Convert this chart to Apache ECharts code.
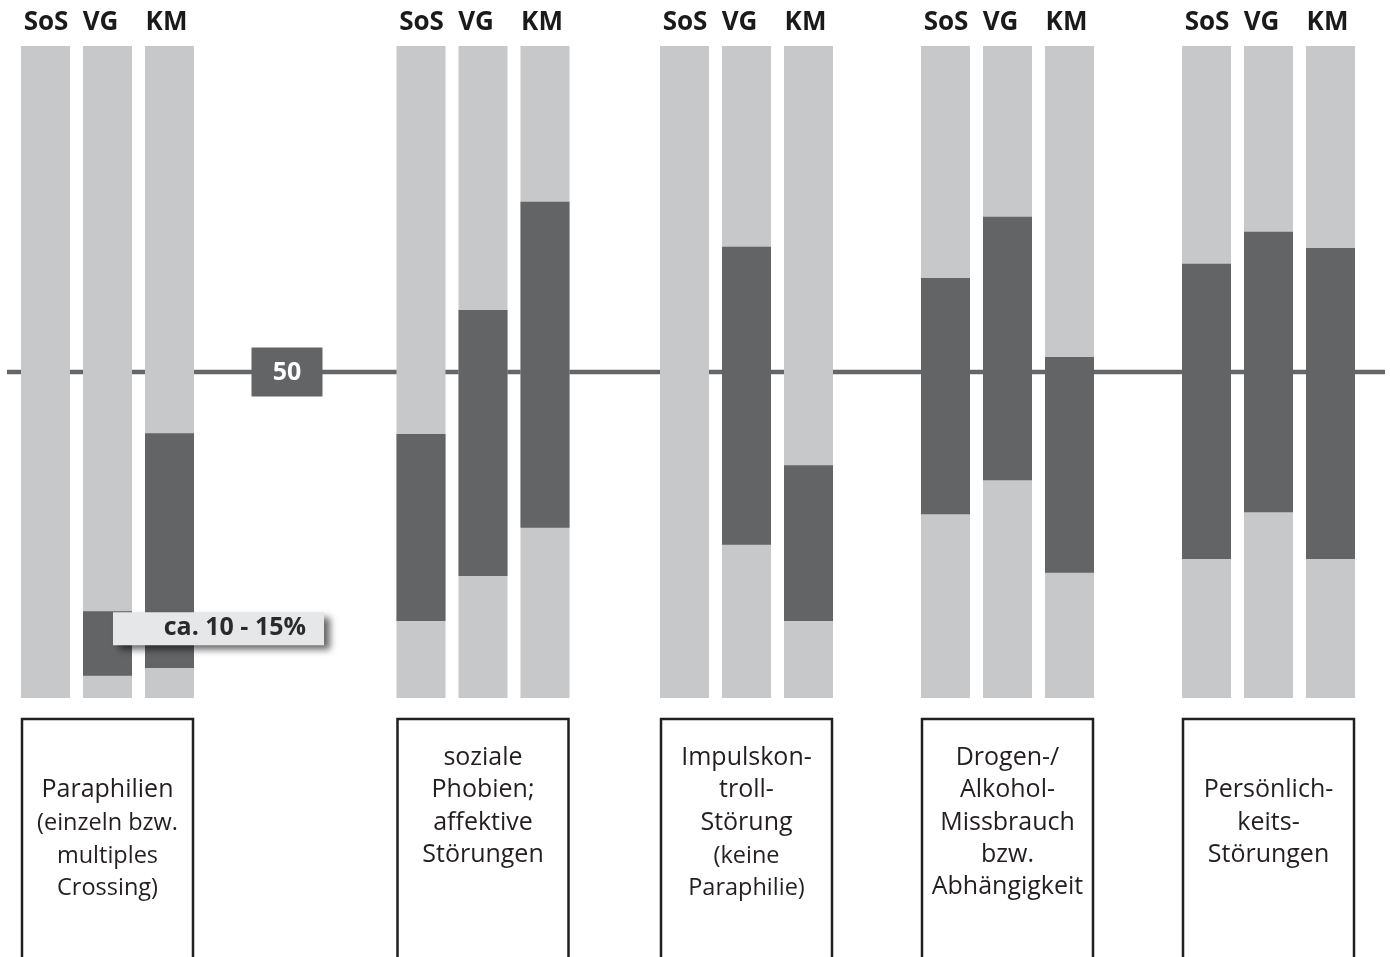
<!DOCTYPE html>
<html><head><meta charset="utf-8">
<script src="https://cdn.jsdelivr.net/npm/echarts@6/dist/echarts.min.js"></script>
<style>html,body{margin:0;padding:0;background:#fff}#main{width:1390px;height:957px}</style>
</head><body><div id="main"></div>
<script>
// ---- data ----
const categories = ['Paraphilien', 'soziale Phobien; affektive Störungen', 'Impulskontroll-Störung', 'Drogen-/Alkohol-Missbrauch bzw. Abhängigkeit', 'Persönlichkeits-Störungen'];
const boxTitles = ['\nParaphilien', 'soziale\nPhobien;\naffektive\nStörungen', 'Impulskon-\ntroll-\nStörung', 'Drogen-/\nAlkohol-\nMissbrauch\nbzw.\nAbhängigkeit', '\nPersönlich-\nkeits-\nStörungen'];
const boxNotes = ['(einzeln bzw.\nmultiples\nCrossing)', '', '(keine\nParaphilie)', '', ''];
const groups = ['SoS', 'VG', 'KM'];
const sosLow  = [null, 11.8, null, 28.2, 21.3];
const sosHigh = [null, 40.5, null, 64.4, 66.6];
const vgLow   = [3.4, 18.7, 23.5, 33.4, 28.5];
const vgHigh  = [13.3, 59.5, 69.2, 73.8, 71.5];
const kmLow   = [4.6, 26.1, 11.8, 19.2, 21.3];
const kmHigh  = [40.6, 76.1, 35.7, 52.3, 69.0];
const yMin = 0, yMax = 100;
const refValue = 50;
const refLabel = '50';
const noteGroup = 0, noteSeries = 1;
const noteText = 'ca. 10 - 15%';

// ---- layout / style ----
const GROUP_X = [45.5, 421, 684.5, 945.5, 1206.5];
const STEP = 62, BAR_W = 49;
const HEAD_DX = [0.5, -7, -3];
const LIGHT = '#c7c8ca', DARK = '#636466', LINE = '#656668', INK = '#231f20';
const FONT = '"Open Sans", "DejaVu Sans", sans-serif';
function barX(g, j) { return GROUP_X[g] + j * STEP; }

const lows = [sosLow, vgLow, kmLow];
const highs = [sosHigh, vgHigh, kmHigh];

const bgData = [], rangeData = [];
categories.forEach((c, g) => {
  groups.forEach((s, j) => {
    bgData.push([g, j]);
    if (lows[j][g] != null && highs[j][g] != null) rangeData.push([g, j, lows[j][g], highs[j][g]]);
  });
});

const chart = echarts.init(document.getElementById('main'), null, { renderer: 'canvas' });

chart.setOption({
  animation: false,
  backgroundColor: '#fff',
  grid: { left: 0, right: 0, top: 46, bottom: 259 },
  xAxis: { type: 'value', min: 0, max: 1390, show: false },
  yAxis: { type: 'value', min: yMin, max: yMax, show: false },
  series: [
    {
      type: 'custom', z: 1, data: [[refValue]],
      encode: { y: 0 },
      renderItem: function (params, api) {
        const v = api.value(0);
        const p1 = api.coord([7, v]), p2 = api.coord([1385, v]);
        const lx = api.coord([barX(0, 2) + 117.5, v]);
        return {
          type: 'group', children: [
            { type: 'line', shape: { x1: p1[0], y1: p1[1], x2: p2[0], y2: p2[1] }, style: { stroke: LINE, lineWidth: 4.5 } },
            { type: 'rect', shape: { x: lx[0] - 35.5, y: lx[1] - 24.5, width: 71, height: 49 }, style: { fill: DARK } },
            { type: 'text', style: { text: refLabel, x: lx[0], y: lx[1] + 1, fill: '#fff', fontFamily: FONT, fontWeight: 'bold', fontSize: 25, align: 'center', verticalAlign: 'middle' } }
          ]
        };
      }
    },
    {
      type: 'custom', z: 2, data: bgData,
      renderItem: function (params, api) {
        const g = api.value(0), j = api.value(1);
        const x = barX(g, j);
        const top = api.coord([x, yMax]), bot = api.coord([x, yMin]);
        return {
          type: 'group', children: [
            { type: 'rect', shape: { x: top[0] - BAR_W / 2, y: top[1], width: BAR_W, height: bot[1] - top[1] }, style: { fill: LIGHT } },
            { type: 'text', style: { text: groups[j], x: top[0] + HEAD_DX[j], y: top[1] - 23, fill: '#1a1a1a', fontFamily: FONT, fontWeight: 'bold', fontSize: 26, align: 'center', verticalAlign: 'middle' } }
          ]
        };
      }
    },
    {
      type: 'custom', z: 3, data: rangeData,
      renderItem: function (params, api) {
        const g = api.value(0), j = api.value(1);
        const x = barX(g, j);
        const hi = api.coord([x, api.value(3)]), lo = api.coord([x, api.value(2)]);
        return { type: 'rect', shape: { x: hi[0] - BAR_W / 2, y: hi[1], width: BAR_W, height: lo[1] - hi[1] }, style: { fill: DARK } };
      }
    },
    {
      type: 'custom', z: 4, data: categories.map((c, g) => [g]),
      renderItem: function (params, api) {
        const g = api.value(0);
        const left = api.coord([barX(g, 0) - BAR_W / 2, yMin]);
        const right = api.coord([barX(g, 2) + BAR_W / 2, yMin]);
        const boxTop = left[1] + 21;
        const cx = (left[0] + right[0]) / 2;
        const children = [
          { type: 'rect', shape: { x: left[0] + 1, y: boxTop, width: right[0] - left[0] - 2, height: 400 }, style: { fill: 'none', stroke: INK, lineWidth: 2.5 } }
        ];
        const titleLines = boxTitles[g].split('\n');
        const noteLines = boxNotes[g] ? boxNotes[g].split('\n') : [];
        let k = 0;
        titleLines.forEach(t => {
          if (t) children.push({ type: 'text', style: { text: t, x: cx, y: boxTop + 39 + k * 32.3, fill: INK, fontFamily: FONT, fontSize: 25, align: 'center', verticalAlign: 'middle' } });
          k++;
        });
        noteLines.forEach(t => {
          children.push({ type: 'text', style: { text: t, x: cx, y: boxTop + 40 + k * 32.3, fill: INK, fontFamily: FONT, fontSize: 23.5, align: 'center', verticalAlign: 'middle' } });
          k++;
        });
        return { type: 'group', children };
      }
    },
    {
      type: 'custom', z: 5, data: [[noteGroup, noteSeries, highs[noteSeries][noteGroup]]],
      renderItem: function (params, api) {
        const g = api.value(0), j = api.value(1);
        const p = api.coord([barX(g, j), api.value(2)]);
        const bx = p[0] + 5.5, by = p[1] + 1;
        return {
          type: 'group', children: [
            { type: 'rect', shape: { x: bx, y: by, width: 211, height: 33 }, style: { fill: '#e6e7e8', shadowColor: 'rgba(0,0,0,0.6)', shadowBlur: 7, shadowOffsetX: 6, shadowOffsetY: 5 } },
            { type: 'text', style: { text: noteText, x: bx + 193, y: by + 16, fill: '#2a2a2a', fontFamily: FONT, fontWeight: 'bold', fontSize: 25, align: 'right', verticalAlign: 'middle' } }
          ]
        };
      }
    }
  ]
});
</script></body></html>
